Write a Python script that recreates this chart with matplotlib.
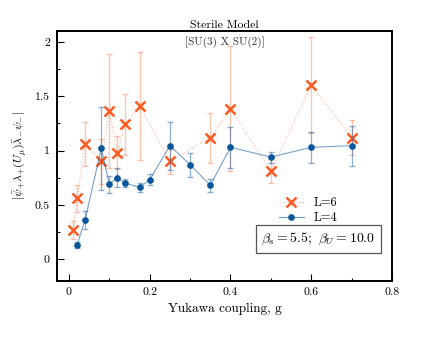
import numpy as np
import matplotlib
matplotlib.use("Agg")
import matplotlib.pyplot as plt

plt.rcParams["font.family"] = "serif"
plt.rcParams["font.serif"] = ["cmr10"]
plt.rcParams["mathtext.fontset"] = "cm"
plt.rcParams["axes.formatter.use_mathtext"] = True

# L=6 data
g_L6 = [0.01, 0.02, 0.04, 0.08, 0.10, 0.12, 0.14, 0.175, 0.25, 0.35, 0.40, 0.50, 0.60, 0.70]
val_L6 = [0.27, 0.56, 1.06, 0.90, 1.36, 0.98, 1.24, 1.41, 0.90, 1.12, 1.385, 0.81, 1.605, 1.12]
err_L6 = [0.08, 0.125, 0.20, 0.21, 0.525, 0.15, 0.28, 0.50, 0.115, 0.23, 0.575, 0.11, 0.44, 0.16]

# L=4 data
g_L4 = [0.02, 0.04, 0.08, 0.10, 0.12, 0.14, 0.175, 0.20, 0.25, 0.30, 0.35, 0.40, 0.50, 0.60, 0.70]
val_L4 = [0.13, 0.36, 1.02, 0.69, 0.75, 0.70, 0.66, 0.73, 1.045, 0.87, 0.68, 1.03, 0.94, 1.03, 1.045]
err_L4 = [0.025, 0.08, 0.385, 0.08, 0.09, 0.035, 0.04, 0.05, 0.22, 0.11, 0.06, 0.19, 0.05, 0.14, 0.185]

orange = "#ff5a1f"
blue = "#0a569c"

fig = plt.figure(figsize=(4.37, 3.38), dpi=100)
ax = fig.add_axes([0.130, 0.169, 0.767, 0.739])

ax.errorbar(g_L6, val_L6, yerr=err_L6, fmt="none", ecolor=orange, alpha=0.35,
            elinewidth=1.0, capsize=2.5)
ax.plot(g_L6, val_L6, ls=":", color=orange, alpha=0.45, lw=0.8)
ax.plot(g_L6, val_L6, ls="none", marker="x", color=orange, ms=6.5, mew=1.8)

ax.errorbar(g_L4, val_L4, yerr=err_L4, fmt="none", ecolor=blue, alpha=0.45,
            elinewidth=0.9, capsize=2.5)
ax.plot(g_L4, val_L4, ls="-", color=blue, alpha=0.55, lw=0.8)
ax.plot(g_L4, val_L4, ls="none", marker="o", color=blue, ms=3.8)

# legend proxies
h6, = ax.plot([], [], ls=":", color="#ffb79e", marker="x", ms=6.5, mew=1.8,
              markeredgecolor=orange, lw=0.8)
h4, = ax.plot([], [], ls="-", color="#6a9cc8", marker="o", ms=3.8,
              markerfacecolor=blue, markeredgecolor=blue, lw=0.8)
ax.legend([h6, h4], ["L=6", "L=4"], loc="center", frameon=False,
          bbox_to_anchor=(0.75, 0.282), fontsize=9, handlelength=2.0,
          labelspacing=0.25, borderpad=0.2)

ax.text(0.78, 0.168, r"$\beta_s = 5.5;\ \beta_U = 10.0$", transform=ax.transAxes,
        ha="center", va="center", fontsize=10,
        bbox=dict(boxstyle="square,pad=0.4", fc="white", ec="#555555", lw=0.9))

ax.set_xlim(-0.03, 0.8)
ax.set_ylim(-0.2, 2.1)
ax.set_xticks([0, 0.2, 0.4, 0.6, 0.8])
ax.set_xticks(np.arange(0.1, 0.8, 0.2), minor=True)
ax.set_yticks([0, 0.5, 1, 1.5, 2])
ax.set_yticklabels(["0", "0.5", "1", "1.5", "2"])
ax.set_xticklabels(["0", "0.2", "0.4", "0.6", "0.8"])
ax.set_yticks([0.25, 0.75, 1.25, 1.75], minor=True)
ax.tick_params(which="both", direction="in", labelsize=8.5, top=False, right=False)
ax.tick_params(which="major", length=5, width=0.8, pad=5)
ax.tick_params(which="minor", length=2.5, width=0.8)
for s in ax.spines.values():
    s.set_linewidth(1.4)

ax.set_xlabel("Yukawa coupling, g", fontsize=9.5)
ax.set_ylabel(r"$|\bar{\psi}_{+}\lambda_{+}(U_{\mu})\bar{\lambda}_{-}\psi_{-}|$", fontsize=8.5)
ax.set_title("Sterile Model", fontsize=8.5, pad=2)
ax.text(0.5, 0.955, "[SU(3) X SU(2)]", transform=ax.transAxes, ha="center",
        va="center", fontsize=8, color="#333333")

fig.savefig("out.png", dpi=100)
